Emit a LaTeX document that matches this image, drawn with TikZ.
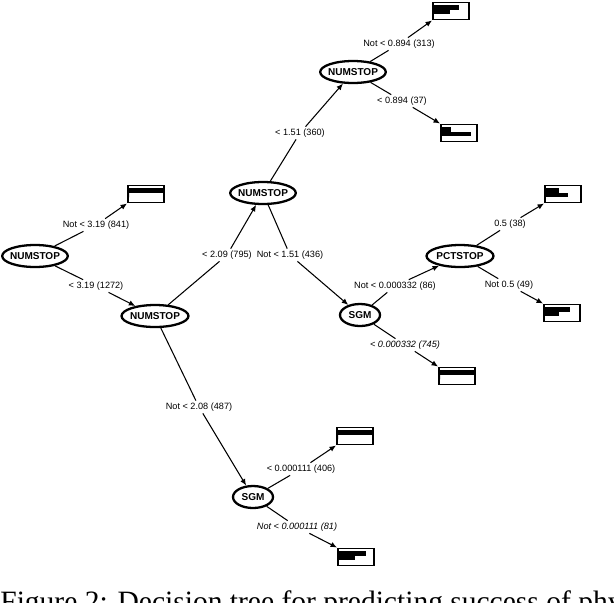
\documentclass[tikz,border=0pt]{standalone}
\usepackage{fontspec}
\setmainfont{Liberation Serif}
\setsansfont{Liberation Sans}
\usetikzlibrary{arrows.meta,shapes.geometric}

\begin{document}
\begin{tikzpicture}[
  x=0.02cm, y=-0.02cm,
  font=\sffamily,
  split/.style={ellipse, draw, line width=1.3pt, inner xsep=-1pt, inner ysep=0pt, minimum height=0.44cm, font=\sffamily\bfseries\fontsize{5.7}{6}\selectfont},
  leafbox/.style 2 args={rectangle, draw, line width=1.1pt, minimum width=0.72cm, minimum height=0.34cm, inner sep=0pt,
    path picture={
      \fill ([xshift=0.8pt,yshift=-1.6pt]path picture bounding box.north west) rectangle ++(#1,-2.6pt);
      \fill ([xshift=0.8pt,yshift=-4.2pt]path picture bounding box.north west) rectangle ++(#2,-2.6pt);
    }},
  cond/.style={font=\sffamily\fontsize{5.2}{6}\selectfont, inner sep=1pt},
  arrow/.style={-{Latex[length=1.3mm,width=1.1mm]}, semithick}
]
\useasboundingbox (0,0) rectangle (614,602);

% splits
\node[split, minimum width=1.24cm] (n1) at (35,256) {NUMSTOP};
\node[split, minimum width=1.34cm] (n2) at (155,316) {NUMSTOP};
\node[split, minimum width=1.3cm] (n3) at (263,193) {NUMSTOP};
\node[split, minimum width=1.3cm] (n4) at (353,72) {NUMSTOP};
\node[split, minimum width=0.8cm] (s1) at (360,315) {SGM};
\node[split, minimum width=1.34cm] (p1) at (460,256) {PCTSTOP};
\node[split, minimum width=0.8cm] (s2) at (253,497) {SGM};

% leaves
\node[leafbox={19pt}{0pt}] (l1) at (146,194) {};
\node[leafbox={14pt}{9pt}] (l2) at (451,11) {};
\node[leafbox={5pt}{16pt}] (l3) at (459,133) {};
\node[leafbox={7pt}{12pt}] (l4) at (563,194) {};
\node[leafbox={14pt}{8pt}] (l5) at (562,313) {};
\node[leafbox={19pt}{0pt}] (l6) at (457,376) {};
\node[leafbox={19pt}{0pt}] (l7) at (355,436) {};
\node[leafbox={15pt}{9pt}] (l8) at (356,557) {};

% conditions
\node[cond] (c1) at (96,225) {Not < 3.19 (841)};
\node[cond] (c2) at (96,286) {< 3.19 (1272)};
\node[cond] (c3) at (227,255) {< 2.09 (795)};
\node[cond] (c4) at (199,407) {Not < 2.08 (487)};
\node[cond] (c5) at (300,133) {< 1.51 (360)};
\node[cond] (c6) at (290,255) {Not < 1.51 (436)};
\node[cond] (c7) at (399,44) {Not < 0.894 (313)};
\node[cond] (c8) at (402,101) {< 0.894 (37)};
\node[cond] (c9) at (395,286) {Not < 0.000332 (86)};
\node[cond, font=\sffamily\itshape\fontsize{5.2}{6}\selectfont] (c10) at (405,345) {< 0.000332 (745)};
\node[cond] (c11) at (510,224) {0.5 (38)};
\node[cond] (c12) at (509,285) {Not 0.5 (49)};
\node[cond] (c13) at (301,469) {< 0.000111 (406)};
\node[cond, font=\sffamily\itshape\fontsize{5.2}{6}\selectfont] (c14) at (297,527) {Not < 0.000111 (81)};

% branches
\draw[arrow] (n1) -- (c1) -- (l1.south west);
\draw[arrow] (n1) -- (c2) -- (n2);
\draw[arrow] (n2) -- (c3) -- (n3);
\draw[arrow] (n2) -- (c4) -- (s2);
\draw[arrow] (n3) -- (c5) -- (n4);
\draw[arrow] (n3) -- (c6) -- (s1);
\draw[arrow] (n4) -- (c7) -- (l2.south west);
\draw[arrow] (n4) -- (c8) -- (l3.north west);
\draw[arrow] (s1) -- (c9) -- (p1);
\draw[arrow] (s1) -- (c10) -- (l6.north west);
\draw[arrow] (p1) -- (c11) -- (l4.south west);
\draw[arrow] (p1) -- (c12) -- (l5.north west);
\draw[arrow] (s2) -- (c13) -- (l7.south west);
\draw[arrow] (s2) -- (c14) -- (l8.north west);

% caption
\node[anchor=base west, inner sep=0pt, font=\rmfamily\fontsize{16.8}{20}\selectfont] (caption) at (0,611) {Figure 2: Decision tree for predicting success of phys};
\end{tikzpicture}
\end{document}
